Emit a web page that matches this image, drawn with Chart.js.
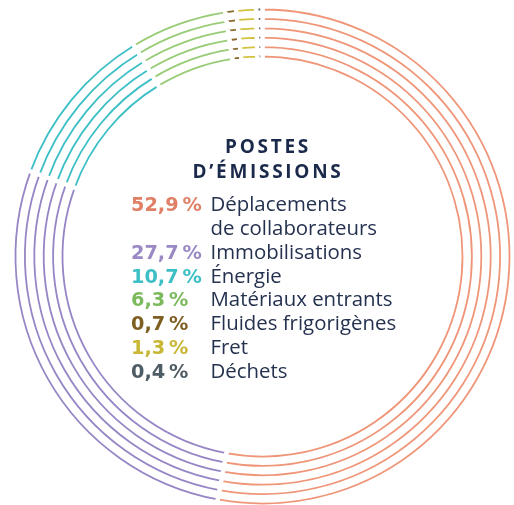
<!DOCTYPE html>
<html>
<head>
<meta charset="utf-8">
<script src="https://cdn.jsdelivr.net/npm/chart.js@4.4.1/dist/chart.umd.min.js"></script>
<style>
  html, body { margin: 0; padding: 0; background: #ffffff; overflow: hidden; width: 514px; height: 505px; }
  #wrap { position: absolute; left: -5px; top: -6px; width: 524px; height: 525px; }
  #title { position: absolute; left: 168px; top: 133.6px; width: 200px; text-align: center;
    font-family: "Open Sans", sans-serif; font-weight: 700; font-size: 19px; line-height: 25.7px;
    letter-spacing: 2.7px; color: #1b2a4b; }
  #legend { position: absolute; left: 131px; top: 192px; font-family: "Open Sans", sans-serif;
    font-size: 20.4px; line-height: 23.85px; color: #24314f; }
  .row { display: flex; white-space: nowrap; align-items: baseline; height: 23.85px; }
  .pct { width: 79.5px; font-family: "DejaVu Sans", sans-serif; font-weight: 700; font-size: 19.3px; letter-spacing: -0.2px; line-height: 23.85px; }
  .lab { font-weight: 400; line-height: 23.85px; }
</style>
</head>
<body>
<div id="wrap"><canvas id="c"></canvas></div>
<div id="title">POSTES<br>D’ÉMISSIONS</div>
<div id="legend"></div>
<script>
const categories = ['Déplacements\nde collaborateurs', 'Immobilisations', 'Énergie', 'Matériaux entrants', 'Fluides frigorigènes', 'Fret', 'Déchets'];
const values = [52.9, 27.7, 10.7, 6.3, 0.7, 1.3, 0.4];
const percentLabels = ['52,9\u202F%', '27,7\u202F%', '10,7\u202F%', '6,3\u202F%', '0,7\u202F%', '1,3\u202F%', '0,4\u202F%'];
const ringColors = ['#ef9679', '#9786c6', '#3dbfc6', '#98cc76', '#8a6a2c', '#d2c23e', '#51616b'];
const textColors = ['#e08066', '#9a89c4', '#3cbfc5', '#7cb95c', '#7e5f22', '#c8b635', '#4e5d65'];
const ringCount = 6;

// legend
const leg = document.getElementById('legend');
categories.forEach((cat, i) => {
  const lines = cat.split('\n');
  lines.forEach((ln, j) => {
    const row = document.createElement('div');
    row.className = 'row';
    const p = document.createElement('span');
    p.className = 'pct';
    p.style.color = textColors[i];
    p.textContent = j === 0 ? percentLabels[i] : '\u00A0';
    const l = document.createElement('span');
    l.className = 'lab';
    l.textContent = ln;
    row.appendChild(p); row.appendChild(l);
    leg.appendChild(row);
  });
});

const datasets = [];
for (let r = 0; r < ringCount; r++) {
  if (r > 0) {
    datasets.push({ data: values, backgroundColor: 'rgba(0,0,0,0)', borderWidth: 0, weight: 3.2 });
  }
  datasets.push({ data: values, backgroundColor: ringColors, borderColor: '#ffffff', borderWidth: 4.4, borderAlign: 'center', weight: 6.2 });
}

new Chart(document.getElementById('c'), {
  type: 'doughnut',
  data: { labels: categories, datasets },
  options: {
    responsive: true,
    maintainAspectRatio: false,
    animation: false,
    events: [],
    cutout: '78.73%',
    rotation: 0,
    layout: { padding: { left: 15.2, top: 10.2, right: 4.2, bottom: 10.2 } },
    plugins: { legend: { display: false }, tooltip: { enabled: false } }
  }
});
</script>
</body>
</html>
